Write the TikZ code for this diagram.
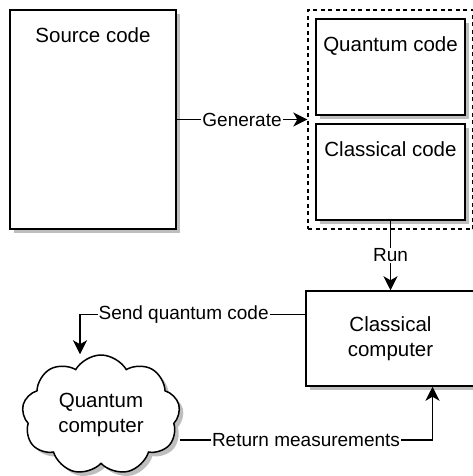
\documentclass[tikz,border=0pt]{standalone}
\usepackage{fontspec}
\setmainfont{Liberation Sans}
\usetikzlibrary{arrows.meta, shapes.symbols, shadows, calc}
\definecolor{shadowgray}{RGB}{190,190,190}
\tikzset{
	>={Stealth[length=14pt, width=14pt, inset=4pt]},
	every node/.style={font=\fontsize{20.5}{25}\selectfont},
	shade box/.style={drop shadow={shadow xshift=4pt, shadow yshift=-4pt, fill=shadowgray, opacity=1}},
	box/.style={draw, line width=1.5pt, fill=white, shade box},
	top text/.style={label={[anchor=north, yshift=-18pt, inner sep=0pt]north:#1}},
	lbl/.style={font=\fontsize{19}{22}\selectfont, fill=white, inner sep=1pt},
	wire/.style={->, line width=1.4pt}
}

\begin{document}
\begin{tikzpicture}[x=1pt, y=-1pt]
	\useasboundingbox (0,0) rectangle (472,476);
	\node[box, minimum width=166pt, minimum height=219pt, top text=Source code] (src) at (93,119.5) {};
	\node[draw, line width=1.4pt, dash pattern=on 4pt off 3.5pt, minimum width=165pt, minimum height=219pt] (grp) at (390.5,119.5) {};
	\node[box, minimum width=149pt, minimum height=96pt, top text=Quantum code] (qc) at (390.5,67) {};
	\node[box, minimum width=149pt, minimum height=96pt, top text=Classical code] (cc) at (390.5,172) {};
	\node[box, minimum width=169pt, minimum height=95pt, align=center] (comp) at (390.5,338.5) {Classical\\computer};
	\node[cloud, draw, line width=1.5pt, fill=white, shade box, cloud puffs=9, cloud puff arc=120, aspect=1.3,
		minimum width=158pt, minimum height=120pt, align=center] (qpu) at (101,415) {Quantum\\computer};
	\draw[wire] (src.east) -- node[lbl]{Generate} (grp.west);
	\draw[wire] (cc.south) -- node[lbl]{Run} (comp.north);
	\draw[wire] ($(comp.north west)!0.25!(comp.south west)$) -| node[lbl, pos=0.27]{Send quantum code} ([xshift=-21pt]qpu.north);
	\draw[wire] ([yshift=-25pt]qpu.east) -| node[lbl, pos=0.25]{Return measurements} ([xshift=42pt]comp.south);
\end{tikzpicture}
\end{document}
